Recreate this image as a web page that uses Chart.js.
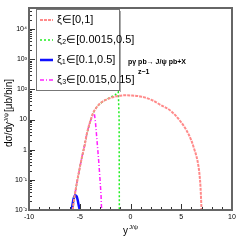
<!doctype html>
<html lang="en">
<head>
<meta charset="utf-8">
<title>J/psi rapidity</title>
<script src="https://cdn.jsdelivr.net/npm/chart.js"></script>
<style>
    html, body { margin: 0; padding: 0; background: #fff; }
    #wrap { width: 240px; height: 240px; }
</style>
</head>
<body>
<div id="wrap"><canvas id="chart" width="240" height="240"></canvas></div>
<script>
    // rapidity points and cross sections
    const xAll = [-5.7, -5.5, -5.3, -5.0, -4.8, -4.5, -4.3, -4.0, -3.7, -3.4, -3.0, -2.5, -2.0, -1.5, -1.0, -0.5, 0, 1, 2, 3, 4, 5, 5.5, 6.0, 6.3, 6.6, 6.8, 6.9, 7.0];
    const yAll = [0.01, 0.03, 0.074, 0.25, 0.54, 1.5, 3.4, 8, 16, 24, 34, 44, 52, 58, 62, 64, 63, 58, 46, 30, 19, 8, 4.5, 2, 1.0, 0.43, 0.15, 0.055, 0.01];

    const xXi2 = [-5.7, -5.5, -5.3, -5.0, -4.8, -4.5, -4.3, -4.0, -3.7, -3.4, -3.0, -2.5, -2.0, -1.5, -1.2, -1.12, -1.1];
    const yXi2 = [0.01, 0.03, 0.074, 0.25, 0.54, 1.5, 3.4, 8, 16, 24, 34, 44, 54, 66, 82, 10, 0.01];

    const xXi1 = [-5.8, -5.7, -5.6, -5.5, -5.4, -5.3, -5.2, -5.1, -5.0];
    const yXi1 = [0.01, 0.016, 0.024, 0.029, 0.03, 0.028, 0.021, 0.014, 0.01];

    const xXi3 = [-5.7, -5.5, -5.3, -5.0, -4.8, -4.5, -4.3, -4.0, -3.7, -3.55, -3.45, -3.3, -3.15, -3.0, -2.9, -2.85];
    const yXi3 = [0.01, 0.03, 0.074, 0.25, 0.54, 1.5, 3.4, 8, 14, 15, 8, 2, 0.5, 0.1, 0.03, 0.01];

    const seriesNames = ['ξ∈[0,1]', 'ξ₂∈[0.0015,0.5]', 'ξ₁∈[0.1,0.5]', 'ξ₃∈[0.015,0.15]'];

    const xTickValues = [-10, -5, 0, 5, 10];
    const yTickValues = [0.01, 0.1, 1, 10, 100, 1000, 10000];
    const yTickLabels = ['10⁻²', '10⁻¹', '1', '10', '10²', '10³', '10⁴'];

    const narrow = "'Liberation Sans Narrow', 'Liberation Sans', sans-serif";

    function pts(xs, ys) {
        return xs.map((x, i) => ({ x: x, y: ys[i] }));
    }

    // frame, inside ticks, legend box and texts in ROOT style
    const rootStyle = {
        id: 'rootStyle',
        afterDraw(chart) {
            const c = chart.ctx;
            const a = chart.chartArea;
            const xs = chart.scales.x;
            const ys = chart.scales.y;
            c.save();

            // ticks
            c.strokeStyle = '#333';
            c.lineWidth = 1;
            c.beginPath();
            for (let v = -10; v <= 10; v++) {
                const px = Math.round(xs.getPixelForValue(v)) + 0.5;
                const len = (v % 5 === 0) ? 6 : 3;
                c.moveTo(px, a.bottom);
                c.lineTo(px, a.bottom - len);
            }
            for (let d = -2; d <= 4; d++) {
                for (let m = 1; m <= 9; m++) {
                    const val = m * Math.pow(10, d);
                    if (val > 5e4) continue;
                    const py = Math.round(ys.getPixelForValue(val)) + 0.5;
                    const len = (m === 1) ? 6 : 3;
                    c.moveTo(a.left, py);
                    c.lineTo(a.left + len, py);
                }
            }
            c.stroke();

            // frame
            c.strokeStyle = '#666';
            c.lineWidth = 2;
            c.strokeRect(a.left, a.top, a.right - a.left, a.bottom - a.top);

            // legend
            const lx = 36, ly = 9, lw = 83, lh = 81;
            c.fillStyle = '#fff';
            c.fillRect(lx, ly, lw, lh);
            c.strokeStyle = '#777';
            c.lineWidth = 1;
            c.strokeRect(lx + 0.5, ly + 0.5, lw, lh);
            c.fillStyle = '#aaa';
            c.fillRect(lx + lw + 1, ly + 2, 1, lh);
            chart.data.datasets.forEach((ds, i) => {
                const yy = 20 + i * 20;
                c.strokeStyle = ds.borderColor;
                c.lineWidth = ds.borderWidth;
                c.setLineDash(ds.borderDash || []);
                c.beginPath();
                c.moveTo(40, yy);
                c.lineTo(53, yy);
                c.stroke();
                c.setLineDash([]);
                c.fillStyle = '#000';
                c.font = '11px ' + narrow;
                c.textBaseline = 'middle';
                c.textAlign = 'left';
                c.fillText(ds.label, 57, yy);
            });

            // process text
            c.fillStyle = '#000';
            c.font = 'bold 7px ' + narrow;
            c.textAlign = 'left';
            c.textBaseline = 'middle';
            c.fillText('pγ pb→ J/ψ pb+X', 128, 62);
            c.fillText('z~1', 138, 72);

            // y title
            c.save();
            c.translate(12, 107);
            c.rotate(-Math.PI / 2);
            c.textBaseline = 'alphabetic';
            let x0 = -40;
            c.font = '10px ' + narrow;
            c.fillText('dσ/dy', x0, 0);
            x0 += c.measureText('dσ/dy').width;
            c.font = '6px ' + narrow;
            c.fillText('J/ψ', x0, -4);
            x0 += c.measureText('J/ψ').width + 1;
            c.font = '10px ' + narrow;
            c.fillText('[μb/bin]', x0, 0);
            c.restore();

            // x title
            c.textBaseline = 'alphabetic';
            c.font = '10px ' + narrow;
            c.fillText('y', 123, 234);
            c.font = '6px ' + narrow;
            c.fillText('J/ψ', 129, 229);

            c.restore();
        }
    };

    const ctx = document.getElementById('chart').getContext('2d');
    new Chart(ctx, {
        type: 'scatter',
        data: {
            datasets: [{
                label: seriesNames[0],
                data: pts(xAll, yAll),
                showLine: true,
                borderColor: '#ff8a8a',
                borderWidth: 2,
                borderDash: [3, 1],
                pointRadius: 0,
                cubicInterpolationMode: 'monotone'
            }, {
                label: seriesNames[1],
                data: pts(xXi2, yXi2),
                showLine: true,
                borderColor: '#22ee22',
                borderWidth: 1.5,
                borderDash: [2, 2],
                pointRadius: 0,
                tension: 0
            }, {
                label: seriesNames[2],
                data: pts(xXi1, yXi1),
                showLine: true,
                borderColor: '#1010ff',
                borderWidth: 2.5,
                pointRadius: 0,
                cubicInterpolationMode: 'monotone'
            }, {
                label: seriesNames[3],
                data: pts(xXi3, yXi3),
                showLine: true,
                borderColor: '#ff20ff',
                borderWidth: 1.5,
                borderDash: [4, 2, 1, 2],
                pointRadius: 0,
                tension: 0
            }]
        },
        options: {
            responsive: false,
            animation: false,
            layout: { padding: { top: 8, right: 8, left: 0, bottom: 0 } },
            plugins: { legend: { display: false }, tooltip: { enabled: false } },
            scales: {
                x: {
                    type: 'linear',
                    min: -10,
                    max: 10,
                    afterBuildTicks: s => { s.ticks = xTickValues.map(v => ({ value: v })); },
                    afterFit: s => { s.height = 30; },
                    grid: { display: false, drawTicks: false },
                    border: { display: false },
                    ticks: {
                        padding: 3,
                        color: '#000',
                        font: { size: 7, family: narrow },
                        maxRotation: 0
                    }
                },
                y: {
                    type: 'logarithmic',
                    min: 0.01,
                    max: 50000,
                    afterBuildTicks: s => { s.ticks = yTickValues.map(v => ({ value: v })); },
                    afterFit: s => { s.width = 29; },
                    grid: { display: false, drawTicks: false },
                    border: { display: false },
                    ticks: {
                        padding: 2,
                        color: '#000',
                        font: { size: 7, family: narrow },
                        callback: (v) => {
                            const i = yTickValues.indexOf(v);
                            return i >= 0 ? yTickLabels[i] : '';
                        }
                    }
                }
            }
        },
        plugins: [rootStyle]
    });
</script>
</body>
</html>
